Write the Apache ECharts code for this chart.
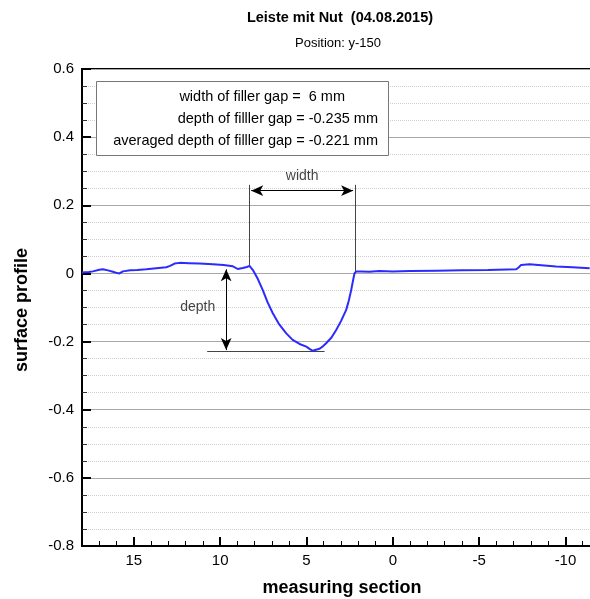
<!DOCTYPE html>
<html><head><meta charset="utf-8">
<script src="https://cdn.jsdelivr.net/npm/echarts@6/dist/echarts.min.js"></script>
<style>html,body{margin:0;padding:0;background:#fff}#c{width:590px;height:599px}</style>
</head><body><div id="c"></div>
<script>
// ---- data ----
const profileX = [18.0, 17.6, 17.37, 17.0, 16.79, 16.5, 16.21, 15.95, 15.83, 15.63, 15.2, 14.8, 14.28, 13.7, 13.12, 12.9, 12.64, 12.35, 11.8, 11.2, 10.42, 9.8, 9.26, 8.98, 8.69, 8.45, 8.30, 8.10, 7.8, 7.53, 7.25, 6.95, 6.6, 6.17, 5.8, 5.4, 5.01, 4.8, 4.63, 4.45, 4.24, 4.05, 3.86, 3.55, 3.28, 3.0, 2.70, 2.55, 2.41, 2.30, 2.22, 2.12, 1.8, 1.35, 0.77, 0, -1, -2.51, -4, -5.5, -7.15, -7.3, -7.43, -7.92, -8.6, -9.46, -10.4, -11.4];
const profileY = [0.003, 0.004, 0.006, 0.011, 0.012, 0.009, 0.005, 0.001, 0.000, 0.006, 0.009, 0.010, 0.012, 0.015, 0.018, 0.022, 0.029, 0.031, 0.030, 0.029, 0.027, 0.025, 0.021, 0.013, 0.016, 0.019, 0.022, 0.010, -0.018, -0.049, -0.085, -0.117, -0.148, -0.176, -0.195, -0.207, -0.215, -0.222, -0.227, -0.224, -0.221, -0.214, -0.205, -0.188, -0.166, -0.140, -0.107, -0.080, -0.049, -0.020, 0.000, 0.006, 0.006, 0.005, 0.007, 0.006, 0.007, 0.008, 0.009, 0.010, 0.012, 0.018, 0.025, 0.027, 0.024, 0.020, 0.018, 0.015];

const xRange = [-12, 18];
const yRange = [-0.8, 0.6];
const yStep = 0.2;

// annotation values (data units)
const widthEdgeX = [8.3, 2.2];
const widthEdgeBottom = [0.022, 0.0];
const widthEdgeTop = 0.26;
const widthArrowX = [8.2, 2.3];
const widthArrowY = 0.243;
const depthArrowX = 9.65;
const depthArrowY = [0.012, -0.225];
const depthBaseX = [10.75, 3.95];
const depthBaseY = -0.228;
const annotText = ['width', 'depth'];
const annotPos = [[5.25, 0.286], [11.3, -0.099]];

const titleText = 'Leiste mit Nut  (04.08.2015)';
const subText = 'Position: y-150';
const xName = 'measuring section';
const yName = 'surface profile';
const infoLines = ['width of filler gap =  6 mm', 'depth of filller gap = -0.235 mm', 'averaged depth of filller gap = -0.221 mm'];

// ---- chart ----
const FONT = '"Liberation Sans", Arial, Helvetica, sans-serif';
const chart = echarts.init(document.getElementById('c'));

const thin = {color: '#444', width: 1, type: 'solid'};
const blk = {color: '#000', width: 1, type: 'solid'};
function seg(a, b, style, sym) {
  return [
    {coord: a, symbol: sym ? 'arrow' : 'none', symbolSize: [8, 12], lineStyle: style},
    {coord: b, symbol: sym ? 'arrow' : 'none', symbolSize: [8, 12]}
  ];
}

const option = {
  animation: false,
  backgroundColor: '#fff',
  grid: {left: 82, top: 69, width: 518, height: 477, containLabel: false, outerBoundsMode: 'none',
    show: true, borderColor: '#000', borderWidth: 2, backgroundColor: 'transparent'},
  xAxis: [{
    type: 'value', min: xRange[0], max: xRange[1], inverse: true, interval: 1, position: 'bottom',
    axisLine: {show: true, onZero: false, lineStyle: {color: '#000', width: 2}},
    axisTick: {show: true, inside: true, length: 5, lineStyle: {color: '#000', width: 1}},
    axisLabel: {show: true, margin: 7, fontSize: 15, color: '#000', fontFamily: FONT,
      formatter: v => (Math.round(v) % 5 === 0 ? String(Math.round(v)) : '')},
    splitLine: {show: false}
  }, {
    type: 'value', min: xRange[0], max: xRange[1], inverse: true, splitNumber: 6, position: 'bottom',
    axisLine: {show: false, onZero: false},
    axisTick: {show: true, inside: true, length: 9, lineStyle: {color: '#000', width: 2}},
    axisLabel: {show: false},
    splitLine: {show: false}
  }],
  yAxis: {
    type: 'value', min: yRange[0], max: yRange[1], interval: yStep,
    axisLine: {show: true, onZero: false, lineStyle: {color: '#000', width: 2}},
    axisTick: {show: true, inside: true, length: 9, lineStyle: {color: '#000', width: 2}},
    minorTick: {show: true, splitNumber: 4, length: 5, lineStyle: {color: '#333', width: 1}},
    axisLabel: {margin: 8, fontSize: 15, color: '#000', fontFamily: FONT},
    splitLine: {show: true, lineStyle: {color: '#a8a8a8', width: 1}},
    minorSplitLine: {show: true, lineStyle: {color: '#cfcfcf', width: 1, type: 'dotted'}}
  },
  series: [{
    type: 'line', xAxisIndex: 0, data: profileX.map((x, i) => [x, profileY[i]]),
    symbol: 'none', showSymbol: false, silent: true, z: 5,
    lineStyle: {color: '#2b2bff', width: 2},
    markLine: {
      silent: true, animation: false, label: {show: false}, emphasis: {disabled: true},
      data: [
        seg([widthEdgeX[0], widthEdgeTop], [widthEdgeX[0], widthEdgeBottom[0]], thin, false),
        seg([widthEdgeX[1], widthEdgeTop], [widthEdgeX[1], widthEdgeBottom[1]], thin, false),
        seg([widthArrowX[0], widthArrowY], [widthArrowX[1], widthArrowY], blk, true),
        seg([depthArrowX, depthArrowY[0]], [depthArrowX, depthArrowY[1]], blk, true),
        seg([depthBaseX[0], depthBaseY], [depthBaseX[1], depthBaseY], thin, false)
      ]
    }
  }, {
    type: 'scatter', xAxisIndex: 0, symbolSize: 0, silent: true,
    data: annotPos.map((p, i) => ({value: p, name: annotText[i]})),
    label: {show: true, position: 'inside', formatter: '{b}', color: '#111', fontSize: 14, fontFamily: FONT}
  }],
  graphic: [
    {type: 'text', x: 340, y: 18, style: {text: titleText, font: 'bold 14.5px ' + FONT, fill: '#000', align: 'center', verticalAlign: 'middle'}},
    {type: 'text', x: 338, y: 43, style: {text: subText, font: '13px ' + FONT, fill: '#000', align: 'center', verticalAlign: 'middle'}},
    {type: 'text', x: 342, y: 588, style: {text: xName, font: 'bold 18px ' + FONT, fill: '#000', align: 'center', verticalAlign: 'middle'}},
    {type: 'text', x: 22, y: 310, rotation: Math.PI / 2, style: {text: yName, font: 'bold 18px ' + FONT, fill: '#000', align: 'center', verticalAlign: 'middle'}},
    {type: 'rect', z: 100, shape: {x: 96.5, y: 81.5, width: 292, height: 74}, style: {fill: '#fff', stroke: '#777', lineWidth: 1}},
    {type: 'text', z: 101, x: 345, y: 97, style: {text: infoLines[0], font: '14.5px ' + FONT, fill: '#000', align: 'right', verticalAlign: 'middle'}},
    {type: 'text', z: 101, x: 378, y: 119, style: {text: infoLines[1], font: '14.5px ' + FONT, fill: '#000', align: 'right', verticalAlign: 'middle'}},
    {type: 'text', z: 101, x: 378, y: 141, style: {text: infoLines[2], font: '14.5px ' + FONT, fill: '#000', align: 'right', verticalAlign: 'middle'}}
  ]
};
chart.setOption(option);
</script>
</body></html>
